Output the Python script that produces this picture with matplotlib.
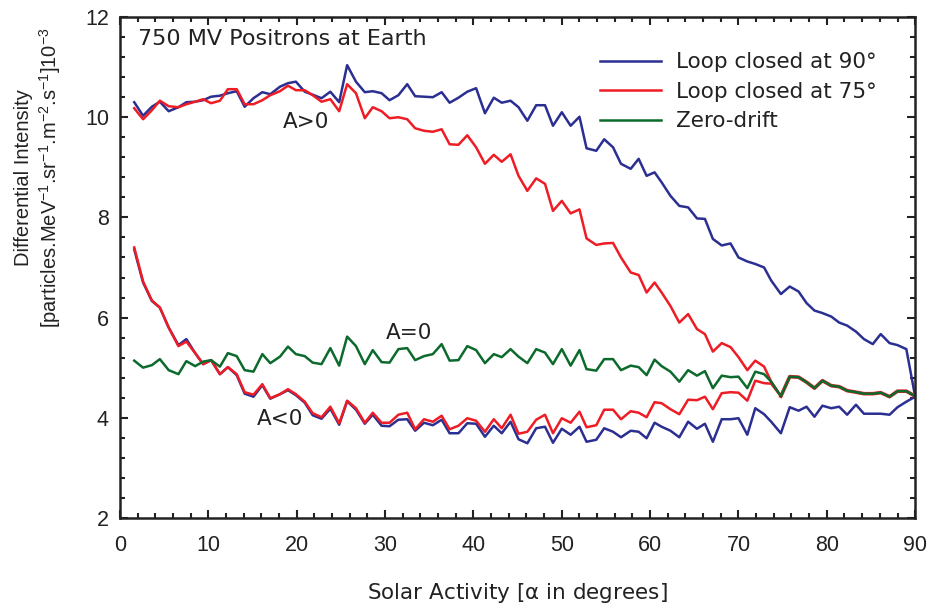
import matplotlib

matplotlib.use("Agg")
import matplotlib.pyplot as plt
from matplotlib.ticker import MultipleLocator

plt.rcParams["font.family"] = ["Liberation Sans", "DejaVu Sans"]
plt.rcParams["mathtext.default"] = "regular"

# solar activity (tilt angle) grid
alpha = [
    1.6, 2.6, 3.6, 4.5, 5.5, 6.6, 7.5, 8.5, 9.4, 10.3,
    11.3, 12.2, 13.2, 14.1, 15.1, 16.1, 17.0, 18.1, 19.0, 19.9,
    20.9, 21.8, 22.8, 23.8, 24.8, 25.7, 26.7, 27.7, 28.6, 29.6,
    30.5, 31.5, 32.5, 33.4, 34.4, 35.4, 36.4, 37.3, 38.3, 39.3,
    40.3, 41.3, 42.3, 43.2, 44.2, 45.1, 46.1, 47.1, 48.1, 49.0,
    50.0, 51.0, 52.0, 52.8, 53.9, 54.8, 55.8, 56.7, 57.8, 58.7,
    59.6, 60.5, 61.3, 62.3, 63.3, 64.3, 65.3, 66.2, 67.1, 68.1,
    69.1, 70.0, 71.0, 71.9, 72.9, 73.7, 74.8, 75.8, 76.8, 77.7,
    78.6, 79.5, 80.5, 81.4, 82.3, 83.3, 84.2, 85.2, 86.1, 87.1,
    88.0, 89.0, 90.0,
]

# loop closed at 90 deg, A>0 branch
blue_pos = [
    10.30, 10.03, 10.21, 10.31, 10.12, 10.20, 10.30, 10.31, 10.34, 10.41,
    10.43, 10.48, 10.52, 10.21, 10.38, 10.50, 10.46, 10.61, 10.68, 10.71,
    10.51, 10.45, 10.38, 10.51, 10.30, 11.04, 10.71, 10.50, 10.52, 10.48,
    10.34, 10.44, 10.66, 10.42, 10.41, 10.40, 10.50, 10.29, 10.39, 10.51,
    10.58, 10.08, 10.39, 10.29, 10.33, 10.20, 9.93, 10.24, 10.24, 9.83,
    10.10, 9.83, 10.01, 9.38, 9.33, 9.56, 9.40, 9.07, 8.97, 9.17,
    8.83, 8.90, 8.70, 8.43, 8.23, 8.20, 7.98, 7.97, 7.57, 7.44,
    7.48, 7.20, 7.12, 7.07, 7.00, 6.74, 6.47, 6.62, 6.52, 6.29,
    6.14, 6.09, 6.02, 5.90, 5.84, 5.72, 5.57, 5.47, 5.67, 5.49,
    5.45, 5.37, 4.42,
]

# loop closed at 90 deg, A<0 branch
blue_neg = [
    7.36, 6.70, 6.33, 6.20, 5.80, 5.45, 5.57, 5.29, 5.07, 5.15,
    4.87, 5.01, 4.85, 4.48, 4.42, 4.65, 4.38, 4.47, 4.55, 4.45,
    4.30, 4.05, 3.98, 4.18, 3.86, 4.33, 4.16, 3.88, 4.06, 3.84,
    3.83, 3.96, 3.97, 3.74, 3.90, 3.85, 3.96, 3.69, 3.69, 3.89,
    3.88, 3.62, 3.84, 3.69, 3.92, 3.57, 3.49, 3.79, 3.82, 3.50,
    3.78, 3.66, 3.82, 3.52, 3.56, 3.79, 3.72, 3.61, 3.74, 3.72,
    3.59, 3.90, 3.82, 3.74, 3.61, 3.92, 3.78, 3.88, 3.52, 3.97,
    3.97, 3.99, 3.66, 4.19, 4.07, 3.92, 3.69, 4.21, 4.14, 4.22,
    4.02, 4.24, 4.19, 4.22, 4.06, 4.26, 4.08, 4.08, 4.08, 4.06,
    4.21, 4.32, 4.42,
]

# loop closed at 75 deg (ends where the loop closes, then follows zero-drift)
red_pos = [
    10.18, 9.96, 10.14, 10.33, 10.22, 10.20, 10.26, 10.31, 10.36, 10.28,
    10.33, 10.56, 10.56, 10.26, 10.26, 10.34, 10.44, 10.52, 10.63, 10.54,
    10.54, 10.44, 10.31, 10.36, 10.12, 10.66, 10.48, 9.98, 10.20, 10.12,
    9.98, 10.00, 9.96, 9.78, 9.73, 9.71, 9.76, 9.46, 9.45, 9.64,
    9.40, 9.07, 9.25, 9.11, 9.26, 8.83, 8.53, 8.78, 8.67, 8.13,
    8.33, 8.08, 8.16, 7.58, 7.45, 7.48, 7.49, 7.20, 6.90, 6.85,
    6.50, 6.70, 6.50, 6.23, 5.90, 6.07, 5.77, 5.67, 5.32, 5.49,
    5.41, 5.21, 4.95, 5.14, 5.02, 4.72, 4.43,
]

red_neg = [
    7.40, 6.72, 6.34, 6.20, 5.80, 5.43, 5.52, 5.29, 5.07, 5.15,
    4.87, 5.01, 4.87, 4.51, 4.46, 4.67, 4.39, 4.47, 4.57, 4.47,
    4.32, 4.09, 4.01, 4.22, 3.89, 4.34, 4.19, 3.90, 4.10, 3.90,
    3.90, 4.06, 4.10, 3.77, 3.97, 3.92, 4.04, 3.77, 3.84, 3.99,
    3.94, 3.72, 3.97, 3.79, 4.06, 3.68, 3.72, 3.96, 4.06, 3.69,
    3.99, 3.90, 4.12, 3.81, 3.85, 4.16, 4.16, 3.97, 4.13, 4.10,
    4.01, 4.31, 4.29, 4.17, 4.07, 4.36, 4.35, 4.42, 4.17, 4.49,
    4.51, 4.50, 4.34, 4.74, 4.69, 4.68, 4.43,
]

green = [
    5.14, 5.00, 5.05, 5.17, 4.95, 4.87, 5.13, 5.03, 5.12, 5.15,
    5.02, 5.29, 5.23, 4.95, 4.92, 5.27, 5.09, 5.22, 5.42, 5.27,
    5.23, 5.10, 5.07, 5.39, 5.04, 5.62, 5.43, 5.07, 5.35, 5.11,
    5.10, 5.37, 5.39, 5.15, 5.23, 5.27, 5.47, 5.14, 5.15, 5.43,
    5.35, 5.09, 5.27, 5.21, 5.37, 5.22, 5.09, 5.37, 5.30, 5.07,
    5.37, 5.04, 5.35, 4.97, 4.94, 5.17, 5.17, 4.95, 5.04, 5.01,
    4.85, 5.16, 5.03, 4.92, 4.72, 4.95, 4.84, 4.93, 4.59, 4.84,
    4.81, 4.82, 4.59, 4.92, 4.87, 4.72, 4.43, 4.82, 4.81, 4.71,
    4.59, 4.74, 4.64, 4.62, 4.54, 4.51, 4.48, 4.48, 4.50, 4.42,
    4.53, 4.53, 4.43,
]

BLUE = "#2b2f91"
RED = "#ee1c25"
GREEN = "#0b6a2c"
INK = "#222222"
# the labels in the original are set wide; DejaVu gets closer to that width
WIDE = ["DejaVu Sans"]

fig = plt.figure(figsize=(9.31, 6.10), dpi=100)
ax = fig.add_axes([0.129, 0.151, 0.854, 0.821])

n_red = len(red_pos)
ax.plot(alpha, blue_pos, color=BLUE, lw=1.8, label="Loop closed at 90°")
ax.plot(alpha, blue_neg, color=BLUE, lw=1.8)
ax.plot(alpha[:n_red], red_pos, color=RED, lw=1.8, label="Loop closed at 75°")
ax.plot(alpha[:n_red], red_neg, color=RED, lw=1.8)
# beyond the closing point the 75 deg loop runs on the zero-drift curve
ax.plot(alpha[n_red - 1:], green[n_red - 1:], color=RED, lw=2.6)
ax.plot(alpha, green, color=GREEN, lw=1.8, label="Zero-drift")

ax.set_xlim(0, 90)
ax.set_ylim(2, 12)
ax.xaxis.set_major_locator(MultipleLocator(10))
ax.xaxis.set_minor_locator(MultipleLocator(2))
ax.yaxis.set_major_locator(MultipleLocator(2))
ax.yaxis.set_minor_locator(MultipleLocator(0.4))
ax.tick_params(which="both", direction="in", top=True, right=True,
               width=1.5, labelsize=15.5, colors=INK)
ax.tick_params(which="major", length=6)
ax.tick_params(which="minor", length=3.5)
ax.tick_params(axis="x", which="major", pad=12)
ax.tick_params(axis="y", which="major", pad=8)
for spine in ax.spines.values():
    spine.set_linewidth(1.8)
    spine.set_color(INK)

ax.set_xlabel(r"Solar Activity [$\alpha$ in degrees]", fontsize=15.5,
              family=WIDE, color=INK, labelpad=18)
ax.set_ylabel("Differential Intensity\n"
              r"[particles.MeV$^{-1}$.sr$^{-1}$.m$^{-2}$.s$^{-1}$]10$^{-3}$",
              fontsize=14.5, linespacing=1.2, color=INK)
ax.yaxis.set_label_coords(-0.072, 0.68)

ax.text(0.022, 0.976, "750 MV Positrons at Earth", transform=ax.transAxes,
        fontsize=16, family=WIDE, va="top", ha="left", color=INK)
ax.text(21.0, 9.9, "A>0", fontsize=15.5, family=WIDE, ha="center", va="center", color=INK)
ax.text(32.7, 5.69, "A=0", fontsize=15.5, family=WIDE, ha="center", va="center", color=INK)
ax.text(18.1, 3.97, "A<0", fontsize=15.5, family=WIDE, ha="center", va="center", color=INK)

leg = ax.legend(loc="upper right", bbox_to_anchor=(0.952, 0.930), frameon=False,
                prop={"family": WIDE, "size": 15.5}, handlelength=2.84,
                handletextpad=0.7, labelspacing=0.44, borderaxespad=0.0,
                borderpad=0.0)
for t in leg.get_texts():
    t.set_color(INK)

fig.savefig("out.png", dpi=100)
plt.close(fig)
